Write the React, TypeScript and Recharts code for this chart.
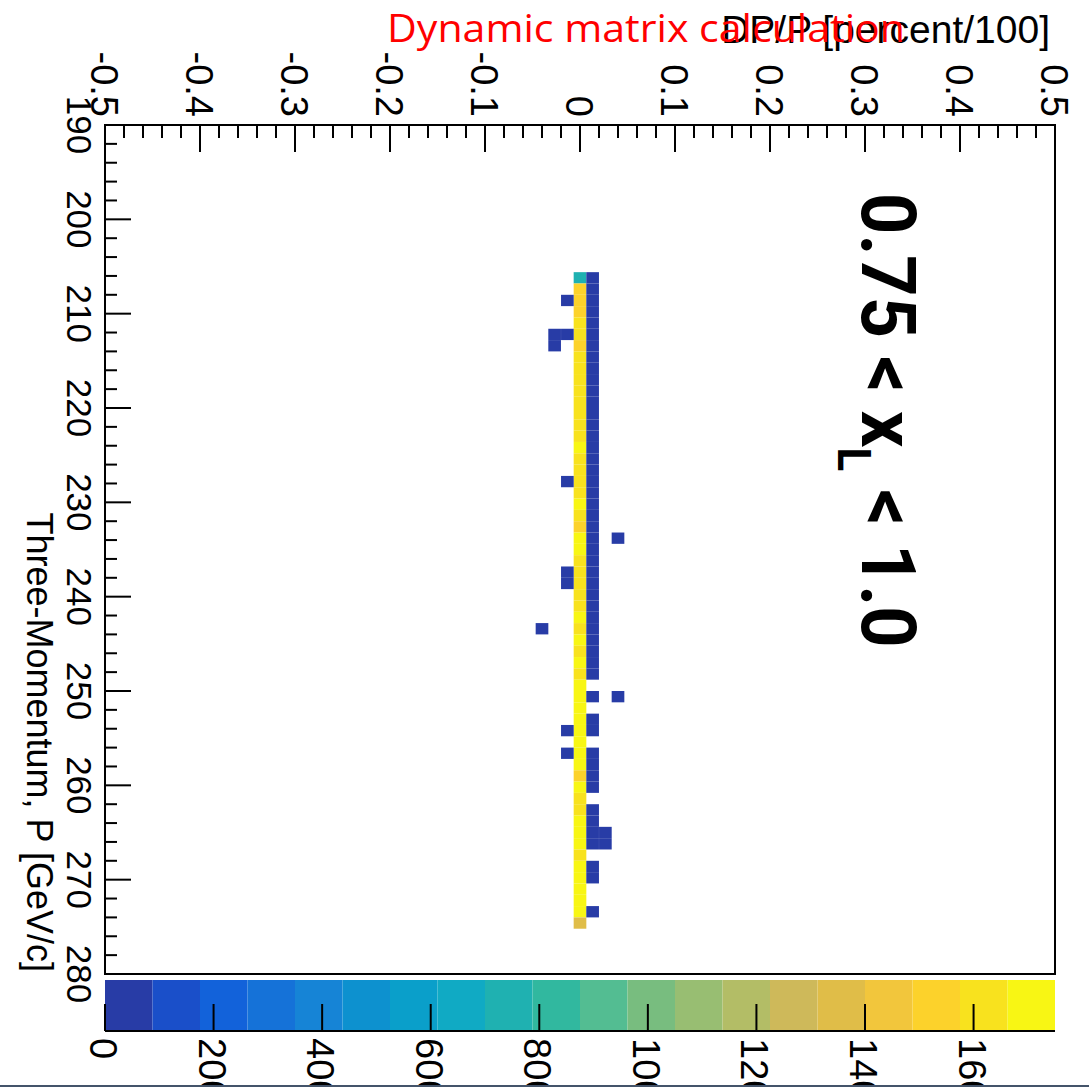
import React from "react";
import { ScatterChart, Scatter, XAxis, YAxis, ReferenceArea } from "recharts";

// momentum bin centres (GeV/c), bins are 1.2 wide
const P_CENTERS = [
  206.2, 207.4, 208.6, 209.8, 211.0, 212.2, 213.4, 214.6, 215.8, 217.0,
  218.2, 219.4, 220.6, 221.8, 223.0, 224.2, 225.4, 226.6, 227.8, 229.0,
  230.2, 231.4, 232.6, 233.8, 235.0, 236.2, 237.4, 238.6, 239.8, 241.0,
  242.2, 243.4, 244.6, 245.8, 247.0, 248.2, 249.4, 250.6, 251.8, 253.0,
  254.2, 255.4, 256.6, 257.8, 259.0, 260.2, 261.4, 262.6, 263.8, 265.0,
  266.2, 267.4, 268.6, 269.8, 271.0, 272.2, 273.4, 274.6,
];

// counts in the DP/P = 0 bin
const CENTER_COUNTS = [
  740, 1530, 1520, 1540, 1610, 1620, 1550, 1600, 1610, 1620,
  1600, 1630, 1610, 1620, 1600, 1690, 1620, 1610, 1630, 1620,
  1700, 1610, 1540, 1690, 1700, 1620, 1610, 1630, 1620, 1610,
  1690, 1600, 1700, 1620, 1690, 1610, 1700, 1710, 1690, 1700,
  1690, 1700, 1710, 1690, 1520, 1700, 1620, 1610, 1700, 1710,
  1690, 1600, 1700, 1690, 1710, 1700, 1690, 1350,
];

// counts in the DP/P = +0.0133 bin
const NEXT_COUNTS = [
  40, 55, 48, 52, 60, 45, 50, 58, 62, 55,
  49, 53, 57, 60, 51, 47, 55, 58, 50, 44,
  52, 49, 46, 55, 41, 38, 44, 36, 40, 33,
  35, 30, 28, 31, 26, 22, 0, 18, 0, 15,
  12, 0, 14, 11, 10, 9, 0, 8, 7, 9,
  6, 0, 5, 4, 0, 0, 3, 0,
];

// scattered single cells away from the core
const SIDE_DP = [-0.04, -0.0267, -0.0267, -0.0133, -0.0133, -0.0133, -0.0133, -0.0133, -0.0133, -0.0133, 0.0267, 0.0267, 0.04, 0.04];
const SIDE_P = [243.4, 212.2, 213.4, 208.6, 212.2, 227.8, 237.4, 238.6, 254.2, 256.6, 265.0, 266.2, 233.8, 250.6];
const SIDE_COUNTS = [2, 3, 2, 4, 5, 3, 3, 2, 2, 3, 2, 2, 1, 1];

const DP_BIN = 1 / 75;
const P_BIN = 1.2;
const ZMAX = 1750;

const PALETTE = [
  "#283ca6", "#1a4fc9", "#1262da", "#1572d8", "#1684d6",
  "#0d91cf", "#0a9fca", "#10aac4", "#1fb1b1", "#31b89f",
  "#53bd92", "#78bd7f", "#98be72", "#b3bd66", "#ceb95a",
  "#e0bd48", "#f2c63c", "#fcd22b", "#f8e21e", "#f8f614",
];

const DP_LABELS = ["-0.5", "-0.4", "-0.3", "-0.2", "-0.1", "0", "0.1", "0.2", "0.3", "0.4", "0.5"];
const DP_TICKS = Array.from({ length: 51 }, (_, i) => Math.round((-0.5 + i * 0.02) * 100) / 100);
const P_TICKS = Array.from({ length: 46 }, (_, i) => 190 + i * 2);
const Z_TICKS = [0, 200, 400, 600, 800, 1000, 1200, 1400, 1600];

const FONT = "Liberation Sans";

function colorFor(v: number) {
  const idx = Math.min(PALETTE.length - 1, Math.floor(v / (ZMAX / PALETTE.length)));
  return PALETTE[idx];
}

type Cell = { dp: number; p: number; n: number };

const cells: Cell[] = [
  ...P_CENTERS.map((p, i) => ({ dp: 0, p, n: CENTER_COUNTS[i] })),
  ...P_CENTERS.map((p, i) => ({ dp: 0.0133, p, n: NEXT_COUNTS[i] })),
  ...SIDE_P.map((p, i) => ({ dp: SIDE_DP[i], p, n: SIDE_COUNTS[i] })),
].filter((c) => c.n > 0);

function DpTick(props: any) {
  const { x, y, payload } = props;
  const hundredths = Math.round(payload.value * 100);
  const major = hundredths % 10 === 0;
  const label = DP_LABELS[(hundredths + 50) / 10];
  return (
    <g>
      <line x1={x} y1={y} x2={x} y2={y + (major ? 27 : 13)} stroke="#000" strokeWidth={2} />
      {major && (
        <text
          transform={`translate(${x - 14},${y - 8}) rotate(90)`}
          textAnchor="end"
          fontSize={38}
          fontFamily={FONT}
          fill="#000"
        >
          {label}
        </text>
      )}
    </g>
  );
}

function PTick(props: any) {
  const { x, y, payload } = props;
  const major = payload.value % 10 === 0;
  return (
    <g>
      <line x1={x} y1={y} x2={x + (major ? 26 : 12)} y2={y} stroke="#000" strokeWidth={2} />
      {major && (
        <text
          transform={`translate(${x - 38},${y}) rotate(90)`}
          textAnchor="middle"
          fontSize={35}
          fontFamily={FONT}
          fill="#000"
        >
          {payload.value}
        </text>
      )}
    </g>
  );
}

function ZTick(props: any) {
  const { x, y, payload } = props;
  return (
    <g>
      <line x1={x} y1={y} x2={x} y2={y - 27} stroke="#000" strokeWidth={2} />
      <text
        transform={`translate(${x - 15},${y + 7}) rotate(90)`}
        textAnchor="start"
        fontSize={38}
        fontFamily={FONT}
        fill="#000"
      >
        {payload.value}
      </text>
    </g>
  );
}

const EmptyShape = () => <g />;

export default function App() {
  return (
    <div style={{ position: "absolute", left: 0, top: 0, width: 1089, height: 1087, background: "#fff", overflow: "hidden" }}>
      <div style={{ position: "absolute", left: 0, top: 0 }}>
        <ScatterChart width={1089} height={1087} margin={{ top: 95, right: 34, bottom: 113, left: 45 }}>
          <XAxis
            dataKey="dp"
            type="number"
            orientation="top"
            domain={[-0.5, 0.5]}
            ticks={DP_TICKS}
            interval={0}
            height={30}
            tickSize={0}
            tickMargin={0}
            tickLine={false}
            axisLine={false}
            tick={<DpTick />}
            allowDataOverflow
          />
          <YAxis
            dataKey="p"
            type="number"
            reversed
            domain={[190, 280]}
            ticks={P_TICKS}
            interval={0}
            width={60}
            tickSize={0}
            tickMargin={0}
            tickLine={false}
            axisLine={false}
            tick={<PTick />}
            allowDataOverflow
          />
          {cells.map((c, i) => (
            <ReferenceArea
              key={i}
              x1={c.dp - DP_BIN / 2}
              x2={c.dp + DP_BIN / 2}
              y1={c.p - P_BIN / 2}
              y2={c.p + P_BIN / 2}
              fill={colorFor(c.n)}
              fillOpacity={1}
              stroke="none"
              ifOverflow="visible"
            />
          ))}
          <ReferenceArea
            x1={-0.5}
            x2={0.5}
            y1={190}
            y2={280}
            fill="none"
            fillOpacity={0}
            stroke="#000"
            strokeWidth={2}
            ifOverflow="visible"
          />
          <Scatter data={cells} shape={EmptyShape} isAnimationActive={false} />
        </ScatterChart>
      </div>

      <div style={{ position: "absolute", left: 0, top: 960 }}>
        <ScatterChart width={1089} height={127} margin={{ top: 20, right: 34, bottom: 26, left: 105 }}>
          <XAxis
            dataKey="z"
            type="number"
            orientation="bottom"
            domain={[0, ZMAX]}
            ticks={Z_TICKS}
            interval={0}
            height={30}
            tickSize={0}
            tickMargin={0}
            tickLine={false}
            axisLine={{ stroke: "#000", strokeWidth: 2 }}
            tick={<ZTick />}
          />
          <YAxis dataKey="w" type="number" domain={[0, 1]} hide />
          {PALETTE.map((col, i) => (
            <ReferenceArea
              key={i}
              x1={(i * ZMAX) / PALETTE.length}
              x2={((i + 1) * ZMAX) / PALETTE.length}
              y1={0}
              y2={1}
              fill={col}
              fillOpacity={1}
              stroke="none"
              ifOverflow="visible"
            />
          ))}
          <Scatter data={[{ z: 0, w: 0 }]} shape={EmptyShape} isAnimationActive={false} />
        </ScatterChart>
      </div>

      <svg width={1089} height={1087} style={{ position: "absolute", left: 0, top: 0, pointerEvents: "none" }}>
        <text x={1050} y={43} textAnchor="end" fontSize={39} fontFamily={FONT} fill="#000">
          DP/P [percent/100]
        </text>
        <text
          transform="translate(27,972) rotate(90)"
          textAnchor="end"
          fontSize={36}
          fontFamily={FONT}
          fill="#000"
        >
          Three-Momentum, P [GeV/c]
        </text>
        <text
          transform="translate(862,193) rotate(90) scale(0.95,1)"
          fontSize={76}
          fontWeight={700}
          fontFamily="Roboto"
          fill="#000"
        >
          0.75 &lt; x
          <tspan fontSize={46} dy={24}>L</tspan>
          <tspan dy={-24}> &lt; 1.0</tspan>
        </text>
        <text x={387} y={42} fontSize={38} fontFamily="Open Sans" fill="#ff0000" textLength={518} lengthAdjust="spacingAndGlyphs">
          Dynamic matrix calculation
        </text>
      </svg>

      <div style={{ position: "absolute", left: 0, top: 1085, width: 1089, height: 2, background: "#44546a" }} />
    </div>
  );
}
